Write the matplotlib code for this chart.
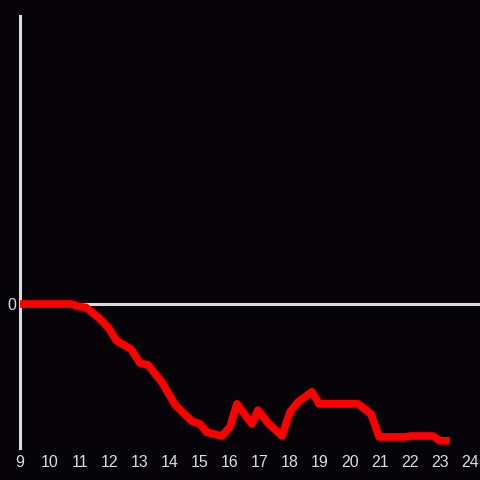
import matplotlib
matplotlib.use("Agg")
import matplotlib.pyplot as plt

hours = [9.0, 10.73, 10.93, 11.2, 11.63, 11.93, 12.23, 12.7, 13.0, 13.27, 13.73,
         14.17, 14.73, 15.0, 15.23, 15.73, 16.0, 16.23, 16.73, 16.93, 17.27,
         17.73, 18.0, 18.27, 18.73, 18.97, 20.27, 20.7, 20.97, 21.83, 22.0,
         22.77, 23.0, 23.33]
values = [0, 0, -0.05, -0.07, -0.29, -0.48, -0.77, -0.94, -1.23, -1.27, -1.63,
          -2.10, -2.44, -2.50, -2.67, -2.75, -2.56, -2.08, -2.50, -2.21, -2.48,
          -2.75, -2.25, -2.04, -1.83, -2.08, -2.08, -2.29, -2.77, -2.77, -2.75,
          -2.75, -2.85, -2.85]
xticks = list(range(9, 25))

bg = "#060408"
fg = "#dcdcdc"

fig = plt.figure(figsize=(4.8, 4.8), dpi=100, facecolor=bg)
ax = fig.add_axes([20/480, 32/480, 460/480, 432/480], facecolor=bg)

ax.axhline(0, color=fg, lw=2.2, zorder=1)
ax.plot(hours, values, color="#ff0000", lw=5.5, solid_joinstyle="round",
        solid_capstyle="butt", zorder=3)

ax.set_xlim(9, 9 + 460/30)
ax.set_ylim(-3, 6)
for s in ["top", "right", "bottom"]:
    ax.spines[s].set_visible(False)
ax.spines["left"].set_color(fg)
ax.spines["left"].set_linewidth(2.2)

ax.set_xticks(xticks)
ax.set_xticklabels([str(t) for t in xticks])
ax.set_yticks([0])
ax.set_yticklabels(["0"])
ax.tick_params(axis="both", length=0, colors=fg, labelsize=11.5)
ax.tick_params(axis="x", pad=5)
ax.tick_params(axis="y", pad=3)
for lab in ax.get_xticklabels() + ax.get_yticklabels():
    lab.set_fontfamily("Liberation Sans")

fig.savefig("out.png", dpi=100, facecolor=bg)
